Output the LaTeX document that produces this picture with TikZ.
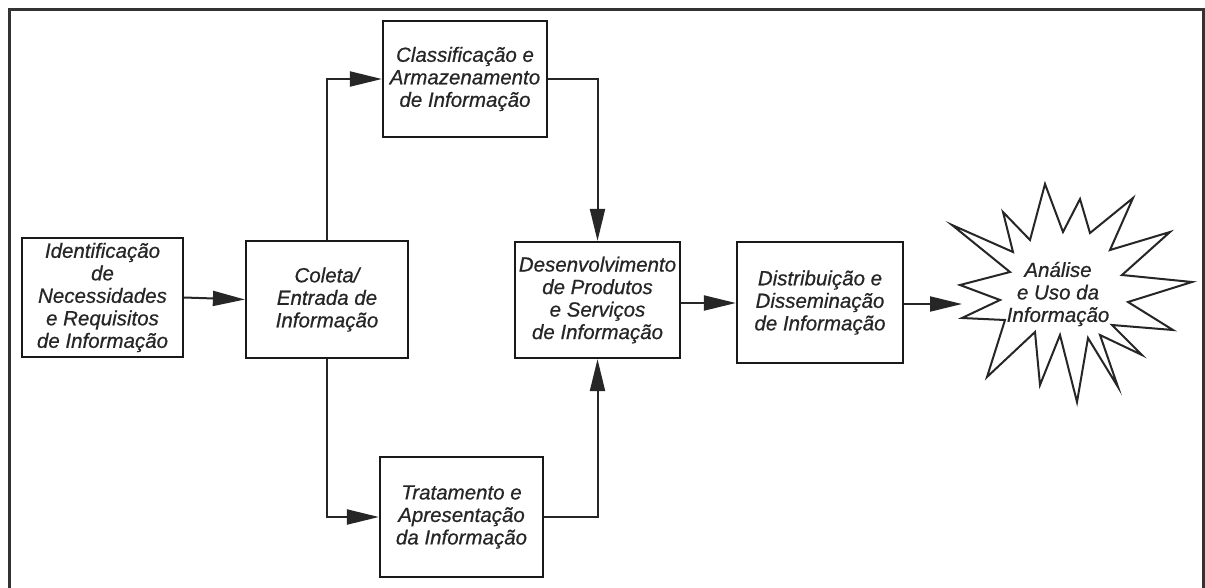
\documentclass[tikz,border=0pt]{standalone}
\usepackage{fontspec}
\setmainfont{Liberation Sans}
\usetikzlibrary{arrows.meta}
\begin{document}
\begin{tikzpicture}[x=1pt,y=-1pt,
  labelfont/.style={font=\itshape\addfontfeatures{FakeBold=0.6}\fontsize{20.5}{22.5}\selectfont,
    text=black!85},
  stage/.style={draw=black!90,line width=2.2pt,align=center,inner sep=0pt,labelfont},
  flow/.style={draw=black!85,line width=2pt,
    -{Triangle[length=32pt,width=15pt]}},
  link/.style={draw=black!85,line width=2pt}]
\useasboundingbox (0,0) rectangle (1205,587);
\fill[white] (0,0) rectangle (1205,587);
% outer frame
\draw[black!80,line width=3pt] (9.5,600) -- (9.5,9.5) -- (1203,9.5) -- (1203,600);

% stages
\node[stage,minimum width=161pt,minimum height=119pt] (need) at (102.5,297.5)
  {Identificação\\de\\Necessidades\\e Requisitos\\de Informação};
\node[stage,minimum width=162pt,minimum height=117pt] (coleta) at (327,299.5)
  {Coleta/\\Entrada de\\Informação};
\node[stage,minimum width=164pt,minimum height=116pt] (classif) at (465,79)
  {Classificação e\\Armazenamento\\de Informação};
\node[stage,minimum width=165pt,minimum height=116pt] (desenv) at (597.5,300)
  {Desenvolvimento\\de Produtos\\e Serviços\\de Informação};
\node[stage,minimum width=166pt,minimum height=121pt] (distrib) at (820,302.5)
  {Distribuição e\\Disseminação\\de Informação};
\node[stage,minimum width=163pt,minimum height=120pt] (trat) at (461.5,517)
  {Tratamento e\\Apresentação\\da Informação};

% starburst
\draw[black!85,line width=2pt,line join=miter]
  (952,225) -- (1013,252) -- (1003,212) -- (1030,240) -- (1045,184)
  -- (1063,232) -- (1080,199) -- (1090,233) -- (1133,198) -- (1110,250)
  -- (1170,232) -- (1122,275) -- (1192,282) -- (1128,302) -- (1173,330)
  -- (1112,325) -- (1142,355) -- (1100,335) -- (1118,387) -- (1088,338)
  -- (1077,402) -- (1060,335) -- (1040,385) -- (1035,332) -- (987,377)
  -- (1005,320) -- (962,318) -- (1000,300) -- (960,285) -- (1010,272)
  -- cycle;
\node[align=center,inner sep=0pt,labelfont] (uso) at (1058,294)
  {Análise\\e Uso da\\Informação};
\coordinate (usoin) at (962,304);

% connectors
\draw[flow] (need.east) -- (coleta.west);
\draw[flow] (coleta.north) |- (classif.west);
\draw[flow] (coleta.south) |- (trat.west);
\draw[flow] (classif.east) -| (desenv.north);
\draw[flow] (trat.east) -| (desenv.south);
\draw[flow] (desenv.east |- 0,303) -- (distrib.west |- 0,303);
\draw[flow] (distrib.east |- usoin) -- (usoin);
\end{tikzpicture}
\end{document}
